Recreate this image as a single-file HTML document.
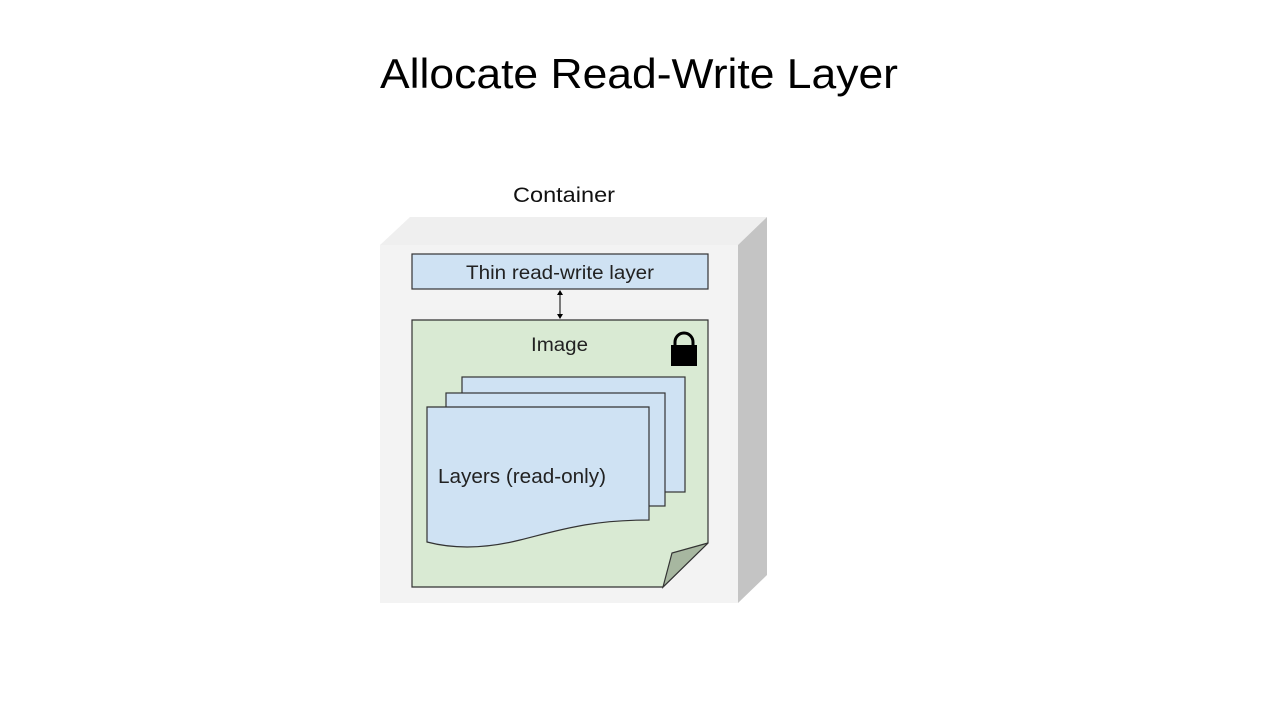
<!DOCTYPE html>
<html><head><style>
html,body{margin:0;padding:0;background:#fff;width:1280px;height:720px;overflow:hidden}
</style></head><body>
<svg width="1280" height="720" xmlns="http://www.w3.org/2000/svg" font-family="Liberation Sans, sans-serif">
<text x="380" y="88" textLength="518" lengthAdjust="spacingAndGlyphs" font-size="42" fill="#000">Allocate Read-Write Layer</text>
<text x="513" y="202" textLength="102" lengthAdjust="spacingAndGlyphs" font-size="21" fill="#111">Container</text>
<polygon points="380,245 410,217 767,217 738,245" fill="#efefef"/>
<polygon points="738,245 767,217 767,575 738,603" fill="#c4c4c4"/>
<rect x="380" y="245" width="358" height="358" fill="#f3f3f3"/>
<rect x="412" y="254" width="296" height="35" fill="#cfe2f3" stroke="#333" stroke-width="1.2"/>
<text x="466" y="279" textLength="188" lengthAdjust="spacingAndGlyphs" font-size="19" fill="#222">Thin read-write layer</text>
<line x1="560" y1="293" x2="560" y2="316" stroke="#000" stroke-width="1"/>
<polygon points="557,295 560,290 563,295" fill="#000"/>
<polygon points="557,314 560,319 563,314" fill="#000"/>
<polygon points="412,320 708,320 708,543 663,587 412,587" fill="#d9ead3" stroke="#333" stroke-width="1.2"/>
<polygon points="663,587 672,553 708,543" fill="#a7b7a0" stroke="#333" stroke-width="1.2"/>
<text x="531" y="351" textLength="57" lengthAdjust="spacingAndGlyphs" font-size="19" fill="#222">Image</text>
<rect x="671" y="345" width="26" height="21" fill="#000"/>
<path d="M675,346 V342 A9,9 0 0 1 693,342 V346" fill="none" stroke="#000" stroke-width="3"/>
<rect x="462" y="377" width="223" height="115" fill="#cfe2f3" stroke="#333" stroke-width="1.2"/>
<rect x="446" y="393" width="219" height="113" fill="#cfe2f3" stroke="#333" stroke-width="1.2"/>
<path d="M427,407 H649 V520 C590,520 560,530 520,540 C480,550 450,548 427,542 Z" fill="#cfe2f3" stroke="#333" stroke-width="1.2"/>
<text x="438" y="483" textLength="168" lengthAdjust="spacingAndGlyphs" font-size="20" fill="#222">Layers (read-only)</text>
</svg>
</body></html>
